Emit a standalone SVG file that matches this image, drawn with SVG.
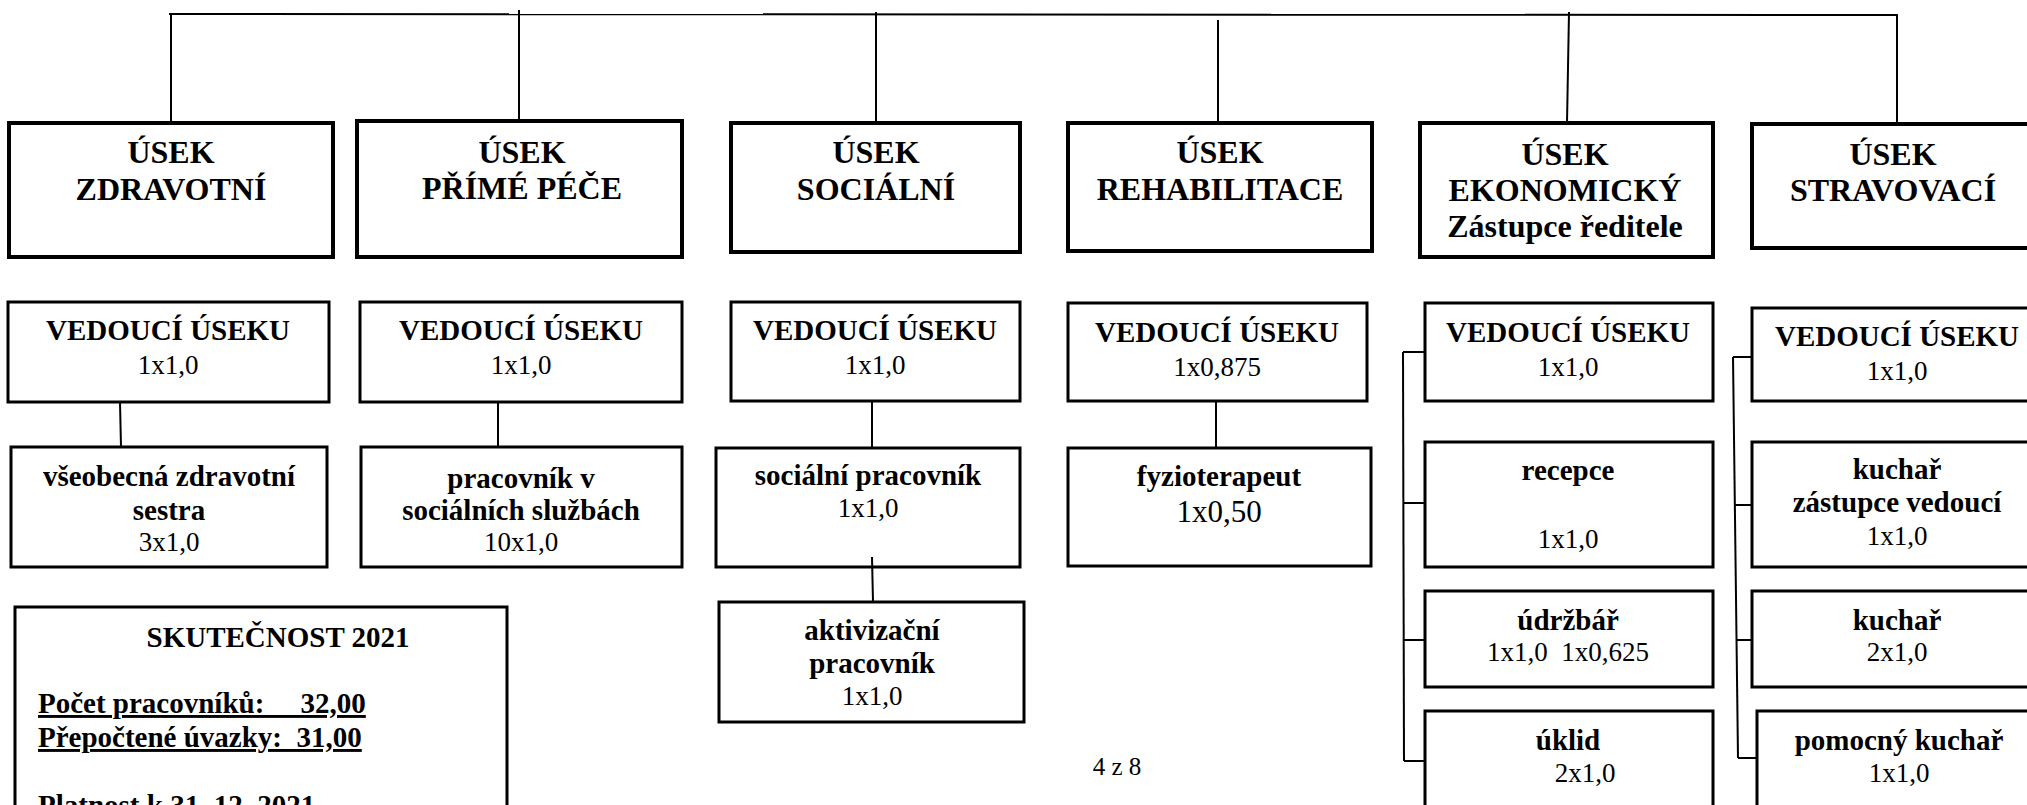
<svg xmlns="http://www.w3.org/2000/svg" width="2027" height="805" viewBox="0 0 2027 805">
<style>
.hb{fill:#fff;stroke:#000;stroke-width:4}
.nb{fill:#fff;stroke:#000;stroke-width:3}
.c{stroke:#000;stroke-width:2;fill:none}
text{font-family:"Liberation Serif","Times New Roman",serif;fill:#000;text-anchor:middle}
.h{font-weight:bold;font-size:32px}
.b{font-weight:bold;font-size:29px}
.r{font-size:27px}
.big{font-size:31px}
.u{text-decoration:underline;text-anchor:start;white-space:pre}
</style>
<rect width="2027" height="805" fill="#fff"/>
<g id="h1"><rect class="hb" x="9" y="123" width="324" height="134"/><text class="h" x="171" y="163">ÚSEK</text><text class="h" x="171" y="200">ZDRAVOTNÍ</text></g>
<g id="h2"><rect class="hb" x="357" y="121" width="325" height="136"/><text class="h" x="522" y="163">ÚSEK</text><text class="h" x="522" y="199">PŘÍMÉ PÉČE</text></g>
<g id="h3"><rect class="hb" x="731" y="123" width="289" height="129"/><text class="h" x="876" y="163">ÚSEK</text><text class="h" x="876" y="200">SOCIÁLNÍ</text></g>
<g id="h4"><rect class="hb" x="1068" y="123" width="304" height="128"/><text class="h" x="1220" y="163">ÚSEK</text><text class="h" x="1220" y="200">REHABILITACE</text></g>
<g id="h5"><rect class="hb" x="1420" y="123" width="293" height="134"/><text class="h" x="1565" y="165">ÚSEK</text><text class="h" x="1565" y="201">EKONOMICKÝ</text><text class="h" x="1565" y="237">Zástupce ředitele</text></g>
<g id="h6"><rect class="hb" x="1752" y="124" width="300" height="124"/><text class="h" x="1893" y="165">ÚSEK</text><text class="h" x="1893" y="201">STRAVOVACÍ</text></g>

<g id="v1"><rect class="nb" x="8" y="302" width="321" height="100"/><text class="b" x="168" y="340">VEDOUCÍ ÚSEKU</text><text class="r" x="168" y="374">1x1,0</text></g>
<g id="v2"><rect class="nb" x="360" y="302" width="322" height="100"/><text class="b" x="521" y="340">VEDOUCÍ ÚSEKU</text><text class="r" x="521" y="374">1x1,0</text></g>
<g id="v3"><rect class="nb" x="731" y="302" width="289" height="99"/><text class="b" x="875" y="340">VEDOUCÍ ÚSEKU</text><text class="r" x="875" y="374">1x1,0</text></g>
<g id="v4"><rect class="nb" x="1068" y="303" width="299" height="98"/><text class="b" x="1217" y="342">VEDOUCÍ ÚSEKU</text><text class="r" x="1217" y="376">1x0,875</text></g>
<g id="v5"><rect class="nb" x="1425" y="303" width="288" height="98"/><text class="b" x="1568" y="342">VEDOUCÍ ÚSEKU</text><text class="r" x="1568" y="376">1x1,0</text></g>
<g id="v6"><rect class="nb" x="1752" y="308" width="300" height="93"/><text class="b" x="1897" y="346">VEDOUCÍ ÚSEKU</text><text class="r" x="1897" y="380">1x1,0</text></g>

<g id="n1"><rect class="nb" x="11" y="447" width="316" height="120"/><text class="b" x="169" y="486">všeobecná zdravotní</text><text class="b" x="169" y="520">sestra</text><text class="r" x="169" y="551">3x1,0</text></g>
<g id="n2"><rect class="nb" x="361" y="447" width="321" height="120"/><text class="b" x="521" y="488">pracovník v</text><text class="b" x="521" y="520">sociálních službách</text><text class="r" x="521" y="551">10x1,0</text></g>
<g id="n3"><rect class="nb" x="716" y="448" width="304" height="119"/><text class="b" x="868" y="485">sociální pracovník</text><text class="r" x="868" y="517">1x1,0</text></g>
<g id="n4"><rect class="nb" x="1068" y="448" width="303" height="118"/><text class="b" x="1219" y="486">fyzioterapeut</text><text class="r big" x="1219" y="522">1x0,50</text></g>
<g id="n5"><rect class="nb" x="719" y="602" width="305" height="120"/><text class="b" x="872" y="640">aktivizační</text><text class="b" x="872" y="673">pracovník</text><text class="r" x="872" y="705">1x1,0</text></g>

<g id="e1"><rect class="nb" x="1425" y="442" width="288" height="125"/><text class="b" x="1568" y="480">recepce</text><text class="r" x="1568" y="548">1x1,0</text></g>
<g id="e2"><rect class="nb" x="1425" y="591" width="288" height="96"/><text class="b" x="1568" y="630">údržbář</text><text class="r" x="1568" y="661" style="white-space:pre">1x1,0  1x0,625</text></g>
<g id="e3"><rect class="nb" x="1425" y="711" width="288" height="120"/><text class="b" x="1568" y="750">úklid</text><text class="r" x="1585" y="782">2x1,0</text></g>

<g id="s1"><rect class="nb" x="1752" y="442" width="300" height="125"/><text class="b" x="1897" y="479">kuchař</text><text class="b" x="1897" y="512">zástupce vedoucí</text><text class="r" x="1897" y="545">1x1,0</text></g>
<g id="s2"><rect class="nb" x="1752" y="591" width="300" height="96"/><text class="b" x="1897" y="630">kuchař</text><text class="r" x="1897" y="661">2x1,0</text></g>
<g id="s3"><rect class="nb" x="1757" y="711" width="295" height="120"/><text class="b" x="1899" y="750">pomocný kuchař</text><text class="r" x="1899" y="782">1x1,0</text></g>

<g id="summary"><rect class="nb" x="15" y="607" width="492" height="230"/><text class="b" x="278" y="647">SKUTEČNOST 2021</text><text class="b u" x="38" y="713">Počet pracovníků:     32,00</text><text class="b u" x="38" y="747">Přepočtené úvazky:  31,00</text><text class="b" x="38" y="815" style="text-anchor:start">Platnost k 31. 12. 2021</text></g>

<text id="page" class="r" x="1117" y="775" style="font-size:25px">4 z 8</text>

<g id="connectors" class="c">
<line x1="169" y1="14" x2="1898" y2="15"/>
<line x1="171" y1="14" x2="171" y2="123"/>
<line x1="519" y1="10" x2="519" y2="121"/>
<line x1="876" y1="12" x2="876" y2="123"/>
<line x1="1218" y1="20" x2="1218" y2="123"/>
<line x1="1569" y1="12" x2="1567" y2="123"/>
<line x1="1897" y1="15" x2="1897" y2="124"/>
<line x1="120" y1="402" x2="121" y2="447"/>
<line x1="498" y1="402" x2="498" y2="447"/>
<line x1="872" y1="401" x2="872" y2="448"/>
<line x1="1216" y1="401" x2="1216" y2="448"/>
<line x1="872" y1="557" x2="873" y2="602"/>
<line x1="1403" y1="352" x2="1404" y2="761"/>
<line x1="1403" y1="352" x2="1425" y2="352"/>
<line x1="1403" y1="503" x2="1425" y2="503"/>
<line x1="1404" y1="640" x2="1425" y2="640"/>
<line x1="1404" y1="761" x2="1425" y2="761"/>
<line x1="1733" y1="357" x2="1738" y2="758"/>
<line x1="1733" y1="357" x2="1752" y2="357"/>
<line x1="1735" y1="505" x2="1752" y2="505"/>
<line x1="1736" y1="640" x2="1752" y2="640"/>
<line x1="1738" y1="758" x2="1757" y2="758"/>
</g>
</svg>
